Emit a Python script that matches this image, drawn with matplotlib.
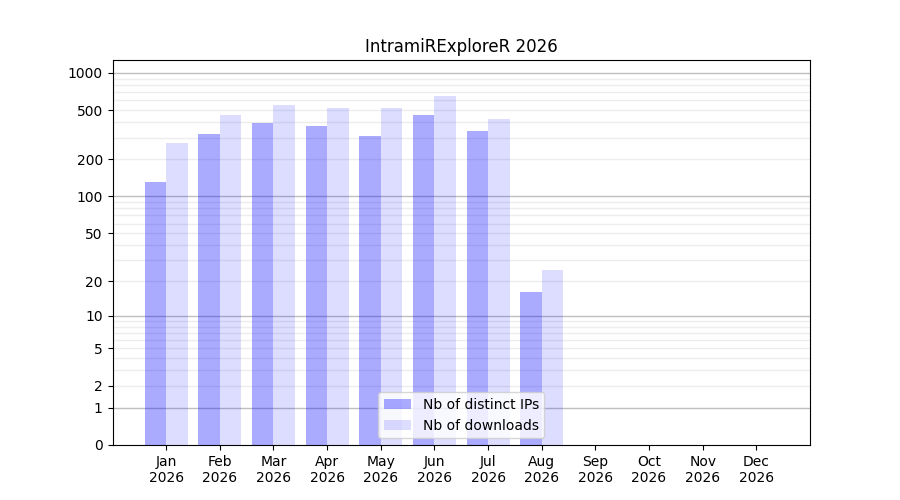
import numpy as np
import matplotlib
matplotlib.use('Agg')
import matplotlib.pyplot as plt

months = ['Jan', 'Feb', 'Mar', 'Apr', 'May', 'Jun', 'Jul', 'Aug', 'Sep', 'Oct', 'Nov', 'Dec']
year = 2026
distinct_ips = [131, 321, 394, 373, 309, 458, 339, 16, 0, 0, 0, 0]
downloads = [272, 458, 551, 521, 521, 652, 425, 25, 0, 0, 0, 0]
yticks = [0, 1, 2, 5, 10, 20, 50, 100, 200, 500, 1000]

x = np.arange(1, len(months) + 1)
fig, ax = plt.subplots(figsize=(9, 5), dpi=100)

# y axis is log10(1+y)
ax.set_yscale('function', functions=(lambda y: np.log10(1 + np.clip(y, -0.999, None)),
                                     lambda t: 10**t - 1))

# grid: dark at powers of ten, light at the in-between values
for p in [1, 10, 100, 1000]:
    ax.axhline(p, color='gray', lw=1, alpha=0.5, zorder=0)
    for k in range(2, 10):
        if k * p < 1300:
            ax.axhline(k * p, color='lightgray', lw=1, alpha=0.4, zorder=0)

ax.bar(x - 0.2, distinct_ips, width=0.4, color='blue', alpha=1/3, label='Nb of distinct IPs', zorder=1)
ax.bar(x + 0.2, downloads, width=0.4, color='blue', alpha=0.135, label='Nb of downloads', zorder=1)

ax.set_xlim(0, 13)
ax.set_ylim(0, 1270)
ax.set_yticks(yticks)
ax.set_yticklabels([str(v) for v in yticks])
ax.yaxis.set_minor_locator(matplotlib.ticker.NullLocator())
ax.set_xticks(x)
ax.set_xticklabels([f'{m}\n{year}' for m in months])
ax.set_title(f'IntramiRExploreR {year}')
ax.legend(loc='lower center')

plt.savefig('out.png', dpi=100)
